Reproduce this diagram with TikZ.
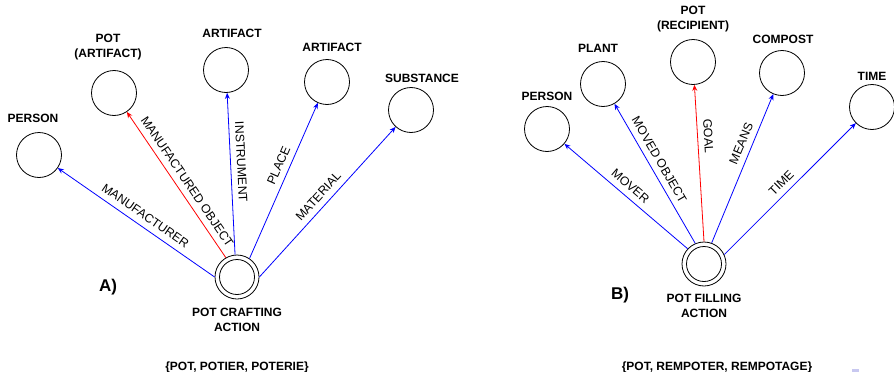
\documentclass[tikz,border=0pt]{standalone}
\usepackage{fontspec}
\setmainfont{Liberation Sans}
\usetikzlibrary{arrows.meta}
\definecolor{relblue}{RGB}{0,0,255}
\definecolor{relred}{RGB}{255,0,0}
\definecolor{smudge}{RGB}{200,200,240}

\begin{document}
\begin{tikzpicture}[x=1pt,y=1pt,
  ent/.style={circle,draw,line width=0.8pt,minimum size=45pt,inner sep=0pt},
  actouter/.style={circle,draw,line width=0.8pt,minimum size=44pt,inner sep=0pt},
  actinner/.style={circle,draw,line width=0.8pt,minimum size=35pt,inner sep=0pt},
  nodetag/.style={font=\fontsize{12}{15}\selectfont\bfseries,align=center,inner sep=0pt},
  paneltag/.style={font=\fontsize{17}{20}\selectfont\bfseries,inner sep=0pt},
  rel/.style={-{Stealth[length=6pt,width=5pt]},line width=0.8pt,color=relblue},
  keyrel/.style={rel,color=relred},
  lbl/.style={font=\fontsize{12.3}{14}\selectfont,text=black,sloped,above=5pt,inner sep=1pt}]

% page frame: x to the right, y downward as negative values
\useasboundingbox (0,0) rectangle (894,-372);

% ---- A) pot crafting frame ----
\node[ent] (person) at (39,-155) {};
\node[ent] (potart) at (114,-93) {};
\node[ent] (art1) at (226,-70) {};
\node[ent] (art2) at (327,-82) {};
\node[ent] (subst) at (411,-110) {};
\node[actouter] (craft) at (237,-277) {};
\node[actinner] (craftin) at (237,-277) {};

\node[nodetag] (tperson) at (33,-118) {PERSON};
\node[nodetag] (tpotart) at (108,-47.5) {POT\\(ARTIFACT)};
\node[nodetag] (tart1) at (232,-33) {ARTIFACT};
\node[nodetag] (tart2) at (332,-47) {ARTIFACT};
\node[nodetag] (tsubst) at (422,-78) {SUBSTANCE};
\node[nodetag] (tcraft) at (237,-319.5) {POT CRAFTING\\ACTION};
\node[nodetag] (setA) at (237,-367) {\{POT, POTIER, POTERIE\}};
\node[paneltag] (panelA) at (108,-287) {A)};

\draw[rel] (craft.180) -- node[lbl,pos=0.48]{MANUFACTURER} (person);
\draw[keyrel] (craft.120) -- node[lbl,pos=0.48]{MANUFACTURED OBJECT} (potart);
\draw[rel] (craft.95) -- node[lbl,pos=0.57]{INSTRUMENT} (art1);
\draw[rel] (craft.56) -- node[lbl,pos=0.57]{PLACE} (art2);
\draw[rel] (craft.0) -- node[lbl,pos=0.49]{MATERIAL} (subst);

% ---- B) pot filling frame ----
\node[ent] (person2) at (547,-129) {};
\node[ent] (plant) at (603,-84) {};
\node[ent] (potrec) at (693,-62) {};
\node[ent] (compost) at (782,-73) {};
\node[ent] (time) at (872,-107) {};
\node[actouter] (fill) at (704,-264) {};
\node[actinner] (fillin) at (704,-264) {};

\node[nodetag] (tperson2) at (547,-96) {PERSON};
\node[nodetag] (tplant) at (598,-48) {PLANT};
\node[nodetag] (tpotrec) at (693,-19.5) {POT\\(RECIPIENT)};
\node[nodetag] (tcompost) at (783,-39) {COMPOST};
\node[nodetag] (ttime) at (872,-76) {TIME};
\node[nodetag] (tfill) at (704,-305.5) {POT FILLING\\ACTION};
\node[nodetag] (setB) at (717,-367) {\{POT, REMPOTER, REMPOTAGE\}};
\node[paneltag] (panelB) at (620,-295) {B)};

\draw[rel] (fill.137) -- node[lbl,pos=0.52]{MOVER} (person2);
\draw[rel] (fill.113) -- node[lbl,pos=0.56]{MOVED OBJECT} (plant);
\draw[keyrel] (fill.90) -- node[lbl,pos=0.67]{GOAL} (potrec);
\draw[rel] (fill.70) -- node[lbl,pos=0.64]{MEANS} (compost);
\draw[rel] (fill.25) -- node[lbl,pos=0.49]{TIME} (time);

% faint mark near the lower right edge
\fill[smudge] (852,-369) rectangle (859,-372);
\end{tikzpicture}
\end{document}
